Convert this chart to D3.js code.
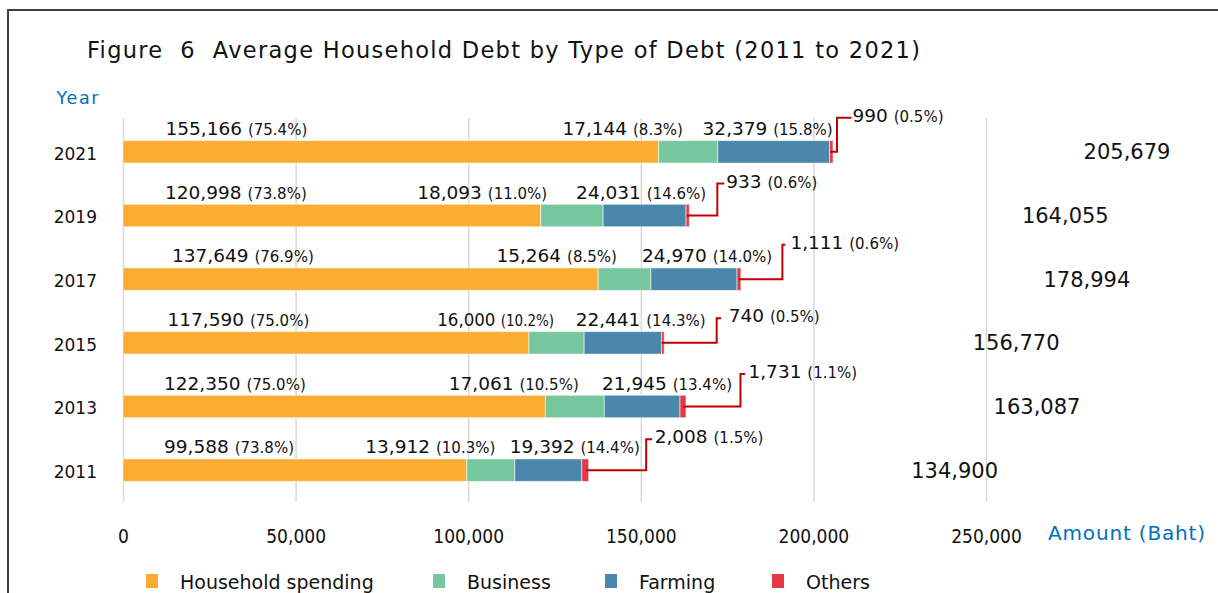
<!DOCTYPE html>
<html><head><meta charset="utf-8">
<script src="https://cdn.jsdelivr.net/npm/d3@7"></script>
<style>html,body{margin:0;padding:0;background:#fff;} svg{display:block;}</style>
</head><body>
<script>
// ---------- data ----------
const years = ["2021", "2019", "2017", "2015", "2013", "2011"];
const seriesNames = ["Household spending", "Business", "Farming", "Others"];
const household = [155166, 120998, 137649, 117590, 122350, 99588];
const business  = [17144, 18093, 15264, 16000, 17061, 13912];
const farming   = [32379, 24031, 24970, 22441, 21945, 19392];
const others    = [990, 933, 1111, 740, 1731, 2008];
const totals    = [205679, 164055, 178994, 156770, 163087, 134900];
const householdPct = ["75.4%", "73.8%", "76.9%", "75.0%", "75.0%", "73.8%"];
const businessPct  = ["8.3%", "11.0%", "8.5%", "10.2%", "10.5%", "10.3%"];
const farmingPct   = ["15.8%", "14.6%", "14.0%", "14.3%", "13.4%", "14.4%"];
const othersPct    = ["0.5%", "0.6%", "0.6%", "0.5%", "1.1%", "1.5%"];
const xTicks = [0, 50000, 100000, 150000, 200000, 250000];

// ---------- layout (manual label placement, pixels) ----------
const colors = ["#FBAD33", "#77C79E", "#4B87AB", "#E63946"];
const hhLabelDx   = [42.5, 42, 49, 44.5, 41, 41];      // from x(0)
const bizLabelDx  = [-35, -56, -34, -30, -25.5, -19.5];// right end vs business end
const farmLabelDx = [3, 20, 35, 44, 52, 58];           // right end vs farming end
const othLeaderDx = [4, 28, 41.5, 52.5, 54.5, 57.5];   // vertical leader vs bar end
const othLabelDy  = [-36.5, -34.5, -37, -27, -35, -33.5];
const othTick     = [14.5, 7, 3, 4.5, 4.5, 6];
const othLabelGap = [15.5, 9, 8, 12, 8, 8.5];
const totalLabelDx = [294, 376, 346, 352, 351, 366];
const legendX = [146, 433, 605, 772];

const W = 1218, H = 593;
const svg = d3.select("body").append("svg").attr("width", W).attr("height", H)
  .style("font-family", "'DejaVu Sans', sans-serif");

// frame
svg.append("path").attr("d", "M8,593 V10 H1218").attr("fill", "none")
  .attr("stroke", "#404040").attr("stroke-width", 2);

// title
svg.append("text").attr("x", 87).attr("y", 58)
  .attr("font-size", 22.5).attr("fill", "#111")
  .attr("textLength", 833).attr("lengthAdjust", "spacing")
  .attr("xml:space", "preserve")
  .text("Figure  6  Average Household Debt by Type of Debt (2011 to 2021)");

svg.append("text").attr("x", 56.5).attr("y", 104)
  .attr("font-size", 17.5).attr("fill", "#0070C0")
  .attr("textLength", 42).attr("lengthAdjust", "spacing").text("Year");

// scales
const x = d3.scaleLinear().domain([0, 250000]).range([123, 986]);
const y = d3.scaleBand().domain(years).range([120, 502]).paddingInner(0.647).paddingOuter(0.3235);
const cy = d => y(d) + y.bandwidth() / 2;

// x axis with gridlines
const xAxis = svg.append("g").attr("transform", "translate(0,502)")
  .call(d3.axisBottom(x).tickValues(xTicks).tickFormat(d3.format(",")).tickSize(-384).tickPadding(27.5));
xAxis.select(".domain").remove();
xAxis.selectAll(".tick line").attr("stroke", "#d9d9d9").attr("stroke-width", 1.5);
xAxis.selectAll(".tick text").attr("font-family", "'DejaVu Sans Condensed', 'DejaVu Sans', sans-serif")
  .attr("font-size", 19).attr("fill", "#111");

svg.append("text").attr("x", 1048).attr("y", 539.5)
  .attr("font-size", 20).attr("fill", "#0070C0")
  .attr("textLength", 157).attr("lengthAdjust", "spacing").text("Amount (Baht)");

// y axis
const yAxis = svg.append("g").attr("transform", "translate(97,2.5)")
  .call(d3.axisLeft(y).tickSize(0).tickPadding(0));
yAxis.select(".domain").remove();
yAxis.selectAll(".tick text").attr("font-family", "'DejaVu Sans', sans-serif")
  .attr("font-size", 17).attr("fill", "#111");

// stacked bars
const rows = years.map((yr, i) => ({ year: yr, household: household[i], business: business[i], farming: farming[i], others: others[i] }));
const keys = ["household", "business", "farming", "others"];
const stacked = d3.stack().keys(keys)(rows);
svg.append("g").selectAll("g").data(stacked).join("g")
  .attr("fill", (d, i) => colors[i])
  .selectAll("rect").data(d => d).join("rect")
  .attr("x", d => x(d[0])).attr("width", d => x(d[1]) - x(d[0]))
  .attr("y", d => y(d.data.year)).attr("height", y.bandwidth())
  .attr("stroke", "#fff").attr("stroke-opacity", 0.55).attr("stroke-width", 1);

// labels
const fmt = d3.format(",");
function label(xPos, yPos, num, pct, anchor, family) {
  const t = svg.append("text").attr("x", xPos).attr("y", yPos).attr("text-anchor", anchor)
    .attr("fill", "#111").attr("xml:space", "preserve");
  if (family) t.attr("font-family", family);
  t.append("tspan").attr("font-size", 18.5).text(fmt(num) + " ");
  t.append("tspan").attr("font-size", 15).text("(" + pct + ")");
  return t;
}
const labelBase = 6.5; // baseline below label centre
years.forEach((yr, i) => {
  const c = cy(yr);
  const ly = c - 23.5 + labelBase;
  const bizEnd = x(household[i] + business[i]);
  const farmEnd = x(household[i] + business[i] + farming[i]);
  const end = x(household[i] + business[i] + farming[i] + others[i]);
  label(x(0) + hhLabelDx[i], ly, household[i], householdPct[i], "start");
  label(bizEnd + bizLabelDx[i], ly, business[i], businessPct[i], "end",
        yr === "2015" ? "'DejaVu Sans Condensed', 'DejaVu Sans', sans-serif" : null);
  label(farmEnd + farmLabelDx[i], ly, farming[i], farmingPct[i], "end");

  // leader line for others
  const vx = end + othLeaderDx[i];
  const ty = c + othLabelDy[i];
  const topY = ty + 2.5;
  svg.append("path")
    .attr("d", `M${end - 2.5},${c} H${vx} V${topY} H${vx + othTick[i]}`)
    .attr("fill", "none").attr("stroke", "#C00000").attr("stroke-width", 2);
  label(vx + othLabelGap[i], ty + labelBase, others[i], othersPct[i], "start");

  // total
  svg.append("text").attr("x", end + totalLabelDx[i]).attr("y", c + 7.5)
    .attr("text-anchor", "middle").attr("font-size", 21).attr("fill", "#111")
    .text(fmt(totals[i]));
});

// legend
const leg = svg.append("g").selectAll("g").data(seriesNames).join("g")
  .attr("transform", (d, i) => `translate(${legendX[i]},0)`);
leg.append("rect").attr("x", 0).attr("y", 574).attr("width", 12).attr("height", 14)
  .attr("fill", (d, i) => colors[i]);
leg.append("text").attr("x", 34).attr("y", 588.5).attr("font-size", 19).attr("fill", "#111")
  .text(d => d);
</script>
</body></html>
